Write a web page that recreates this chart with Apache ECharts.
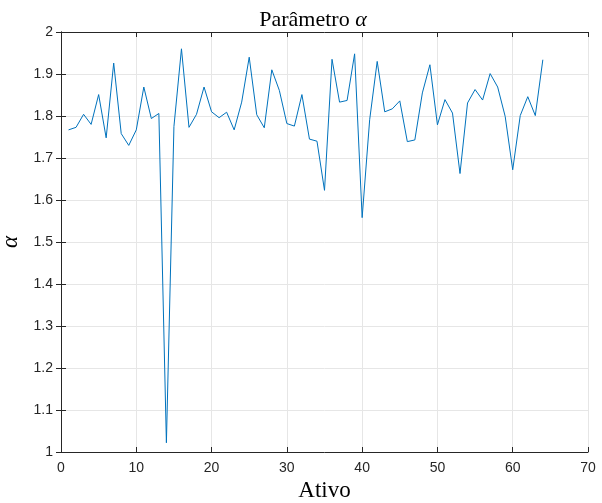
<!DOCTYPE html>
<html>
<head>
<meta charset="utf-8">
<script src="https://cdn.jsdelivr.net/npm/echarts@6/dist/echarts.min.js"></script>
<style>html,body{margin:0;padding:0;background:#fff;}#c{width:602px;height:503px;}</style>
</head>
<body>
<div id="c"></div>
<script>
var ativo = [];
for (var i = 1; i <= 64; i++) ativo.push(i);
var alphaValues = [
  1.767, 1.773, 1.804, 1.780, 1.851, 1.748, 1.926, 1.758, 1.730, 1.767,
  1.869, 1.794, 1.806, 1.022, 1.775, 1.960, 1.773, 1.804, 1.869, 1.810,
  1.796, 1.809, 1.767, 1.833, 1.940, 1.803, 1.772, 1.910, 1.861, 1.782,
  1.776, 1.851, 1.745, 1.740, 1.623, 1.935, 1.833, 1.837, 1.948, 1.558,
  1.791, 1.930, 1.810, 1.817, 1.836, 1.739, 1.743, 1.855, 1.922, 1.779,
  1.839, 1.807, 1.663, 1.831, 1.863, 1.838, 1.901, 1.869, 1.799, 1.672,
  1.801, 1.846, 1.801, 1.934
];
var xTicks = [0, 10, 20, 30, 40, 50, 60, 70];
var yTicks = [1, 1.1, 1.2, 1.3, 1.4, 1.5, 1.6, 1.7, 1.8, 1.9, 2];

var axisColor = '#262626';
var gridColor = '#e6e6e6';
var data = ativo.map(function (x, k) { return [x, alphaValues[k]]; });

var chart = echarts.init(document.getElementById('c'), null, {renderer: 'canvas'});
var tickFont = {color: axisColor, fontSize: 14, fontFamily: 'Liberation Sans, Arial, sans-serif'};
chart.setOption({
  animation: false,
  backgroundColor: '#fff',
  title: {
    text: '{n|Parâmetro }{a|α}',
    left: 308, top: 4, textAlign: 'center',
    textStyle: {
      rich: {
        n: {fontFamily: 'Liberation Serif, Times New Roman, serif', fontSize: 22, fontWeight: 'normal', color: '#000'},
        a: {fontFamily: 'Liberation Serif, Times New Roman, serif', fontSize: 22, fontWeight: 'normal', fontStyle: 'italic', color: '#000'}
      }
    }
  },
  grid: {left: 61, right: 14, top: 32, bottom: 51, containLabel: false, outerBoundsMode: 'none'},
  xAxis: [{
    type: 'value', min: xTicks[0], max: xTicks[xTicks.length - 1], interval: 10,
    position: 'bottom',
    name: 'Ativo', nameLocation: 'middle', nameGap: 27,
    nameTextStyle: {fontFamily: 'Liberation Serif, Times New Roman, serif', fontSize: 23, color: '#000'},
    axisLine: {show: true, lineStyle: {color: axisColor, width: 1}},
    axisTick: {show: true, inside: true, length: 5, lineStyle: {color: axisColor}},
    axisLabel: Object.assign({margin: 9}, tickFont),
    splitLine: {show: true, lineStyle: {color: gridColor, width: 1}}
  }, {
    type: 'value', min: xTicks[0], max: xTicks[xTicks.length - 1], interval: 10,
    position: 'top',
    axisLine: {show: true, lineStyle: {color: axisColor, width: 1}},
    axisTick: {show: true, inside: true, length: 5, lineStyle: {color: axisColor}},
    axisLabel: {show: false},
    splitLine: {show: false}
  }],
  yAxis: [{
    type: 'value', min: yTicks[0], max: yTicks[yTicks.length - 1], interval: 0.1,
    position: 'left',
    name: 'α', nameLocation: 'middle', nameGap: 34, nameRotate: 90,
    nameTextStyle: {fontFamily: 'Liberation Serif, Times New Roman, serif', fontSize: 23, fontStyle: 'italic', color: '#000'},
    axisLine: {show: true, lineStyle: {color: axisColor, width: 1}},
    axisTick: {show: true, inside: true, length: 5, lineStyle: {color: axisColor}},
    axisLabel: Object.assign({margin: 8, formatter: function (v) { return String(Math.round(v * 10) / 10); }}, tickFont),
    splitLine: {show: true, lineStyle: {color: gridColor, width: 1}}
  }, {
    type: 'value', min: yTicks[0], max: yTicks[yTicks.length - 1], interval: 0.1,
    position: 'right',
    axisLine: {show: true, lineStyle: {color: axisColor, width: 1}},
    axisTick: {show: true, inside: true, length: 5, lineStyle: {color: axisColor}},
    axisLabel: {show: false},
    splitLine: {show: false}
  }],
  series: [{
    type: 'line',
    data: data,
    xAxisIndex: 0, yAxisIndex: 0,
    showSymbol: false, symbol: 'none',
    lineStyle: {color: '#0072BD', width: 1},
    itemStyle: {color: '#0072BD'}
  }]
});
</script>
</body>
</html>
